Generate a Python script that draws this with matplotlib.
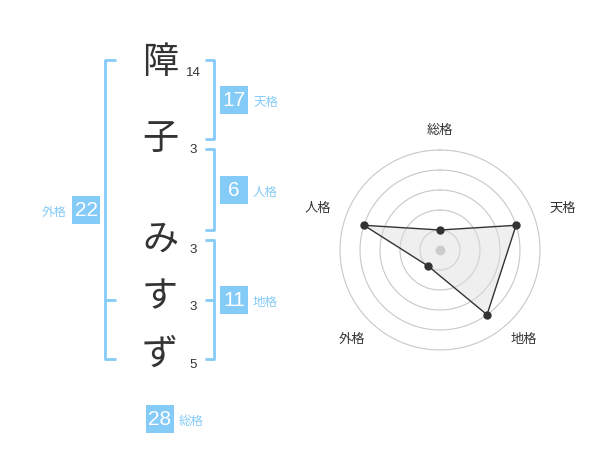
import numpy as np
import matplotlib
matplotlib.use("Agg")
import matplotlib.pyplot as plt
from matplotlib.patches import Rectangle

plt.rcParams['font.family'] = ['Noto Sans CJK JP', 'DejaVu Sans']

# ---- data ----
chars = ["障", "子", "み", "す", "ず"]
strokes = [14, 3, 3, 3, 5]
kaku_names = ["天格", "人格", "地格", "外格", "総格"]
kaku_values = [17, 6, 11, 22, 28]
radar_labels = ["総格", "天格", "地格", "外格", "人格"]
radar_scores = [1, 4, 4, 1, 4]

BLUE = "#85cbf8"
DARK = "#333333"

fig = plt.figure(figsize=(6, 4.7), dpi=100)
ov = fig.add_axes([0, 0, 1, 1])
ov.set_xlim(0, 600)
ov.set_ylim(470, 0)
ov.axis("off")

# characters and stroke counts
char_y = [63, 140, 240, 297, 355]
for c, s, y in zip(chars, strokes, char_y):
    ov.text(160, y, c, fontsize=26, color=DARK, ha="center", va="center")
    ov.text(193, y + 10, str(s), fontsize=9.5, color=DARK, ha="center", va="center",
            family=["Liberation Sans", "DejaVu Sans"])

lw = 2
# outer bracket (外格)
ov.plot([116, 105, 105, 116], [60, 60, 359, 359], color=BLUE, lw=lw, solid_capstyle="butt")
ov.plot([105, 116], [300, 300], color=BLUE, lw=lw, solid_capstyle="butt")
# right brackets
for y0, y1 in [(60, 139), (149, 230), (240, 359)]:
    ov.plot([205, 214, 214, 205], [y0, y0, y1, y1], color=BLUE, lw=lw, solid_capstyle="butt")
ov.plot([205, 214], [300, 300], color=BLUE, lw=lw, solid_capstyle="butt")

# number boxes
box_pos = {"天格": (234, 100, "r"), "人格": (234, 190, "r"), "地格": (234, 300, "r"),
           "外格": (86, 210, "l"), "総格": (160, 419, "r")}
for name, val in zip(kaku_names, kaku_values):
    cx, cy, side = box_pos[name]
    ov.add_patch(Rectangle((cx - 14, cy - 14), 28, 28, color=BLUE, lw=0))
    ov.text(cx, cy + 0.5, str(val), fontsize=15, color="white", ha="center", va="center",
            family=["Liberation Sans", "DejaVu Sans"])
    if side == "r":
        ov.text(cx + 19, cy + 2, name, fontsize=9, color=BLUE, ha="left", va="center")
    else:
        ov.text(cx - 19, cy + 2, name, fontsize=9, color=BLUE, ha="right", va="center")

# radar
ax = fig.add_axes([340 / 600, (470 - 350) / 470, 200 / 600, 200 / 470], projection="polar")
ax.set_theta_offset(np.pi / 2)
ax.set_theta_direction(-1)
ax.set_ylim(0, 5)
ax.set_yticks([1, 2, 3, 4, 5])
ax.set_yticklabels([])
ax.set_xticks([])
ax.grid(False)
ax.spines["polar"].set_visible(False)
ax.patch.set_alpha(0)
th = np.linspace(0, 2 * np.pi, 361)
for r in [1, 2, 3, 4, 5]:
    ax.plot(th, np.full_like(th, r), color="#c8c8c8", lw=0.8, zorder=1, clip_on=False)

angles = np.arange(len(radar_labels)) * 2 * np.pi / len(radar_labels)
a_closed = np.concatenate([angles, angles[:1]])
s_closed = np.concatenate([radar_scores, radar_scores[:1]])
ax.fill(a_closed, s_closed, color="#dddddd", alpha=0.45, zorder=2, lw=0)
ax.plot(a_closed, s_closed, color=DARK, lw=1, zorder=3)
ax.plot(angles, radar_scores, "o", color=DARK, ms=5, zorder=4)
ax.plot([0], [0], "o", color="#cccccc", ms=6, zorder=4)

label_off = [(0, 20), (28, 11), (25, -9), (-29, -9), (-27, 11)]
for a, lab, off in zip(angles, radar_labels, label_off):
    ax.annotate(lab, xy=(a, 5), xytext=off, textcoords="offset pixels",
                fontsize=9.5, color=DARK, ha="center", va="center", annotation_clip=False)

fig.savefig("out.png", dpi=100)
